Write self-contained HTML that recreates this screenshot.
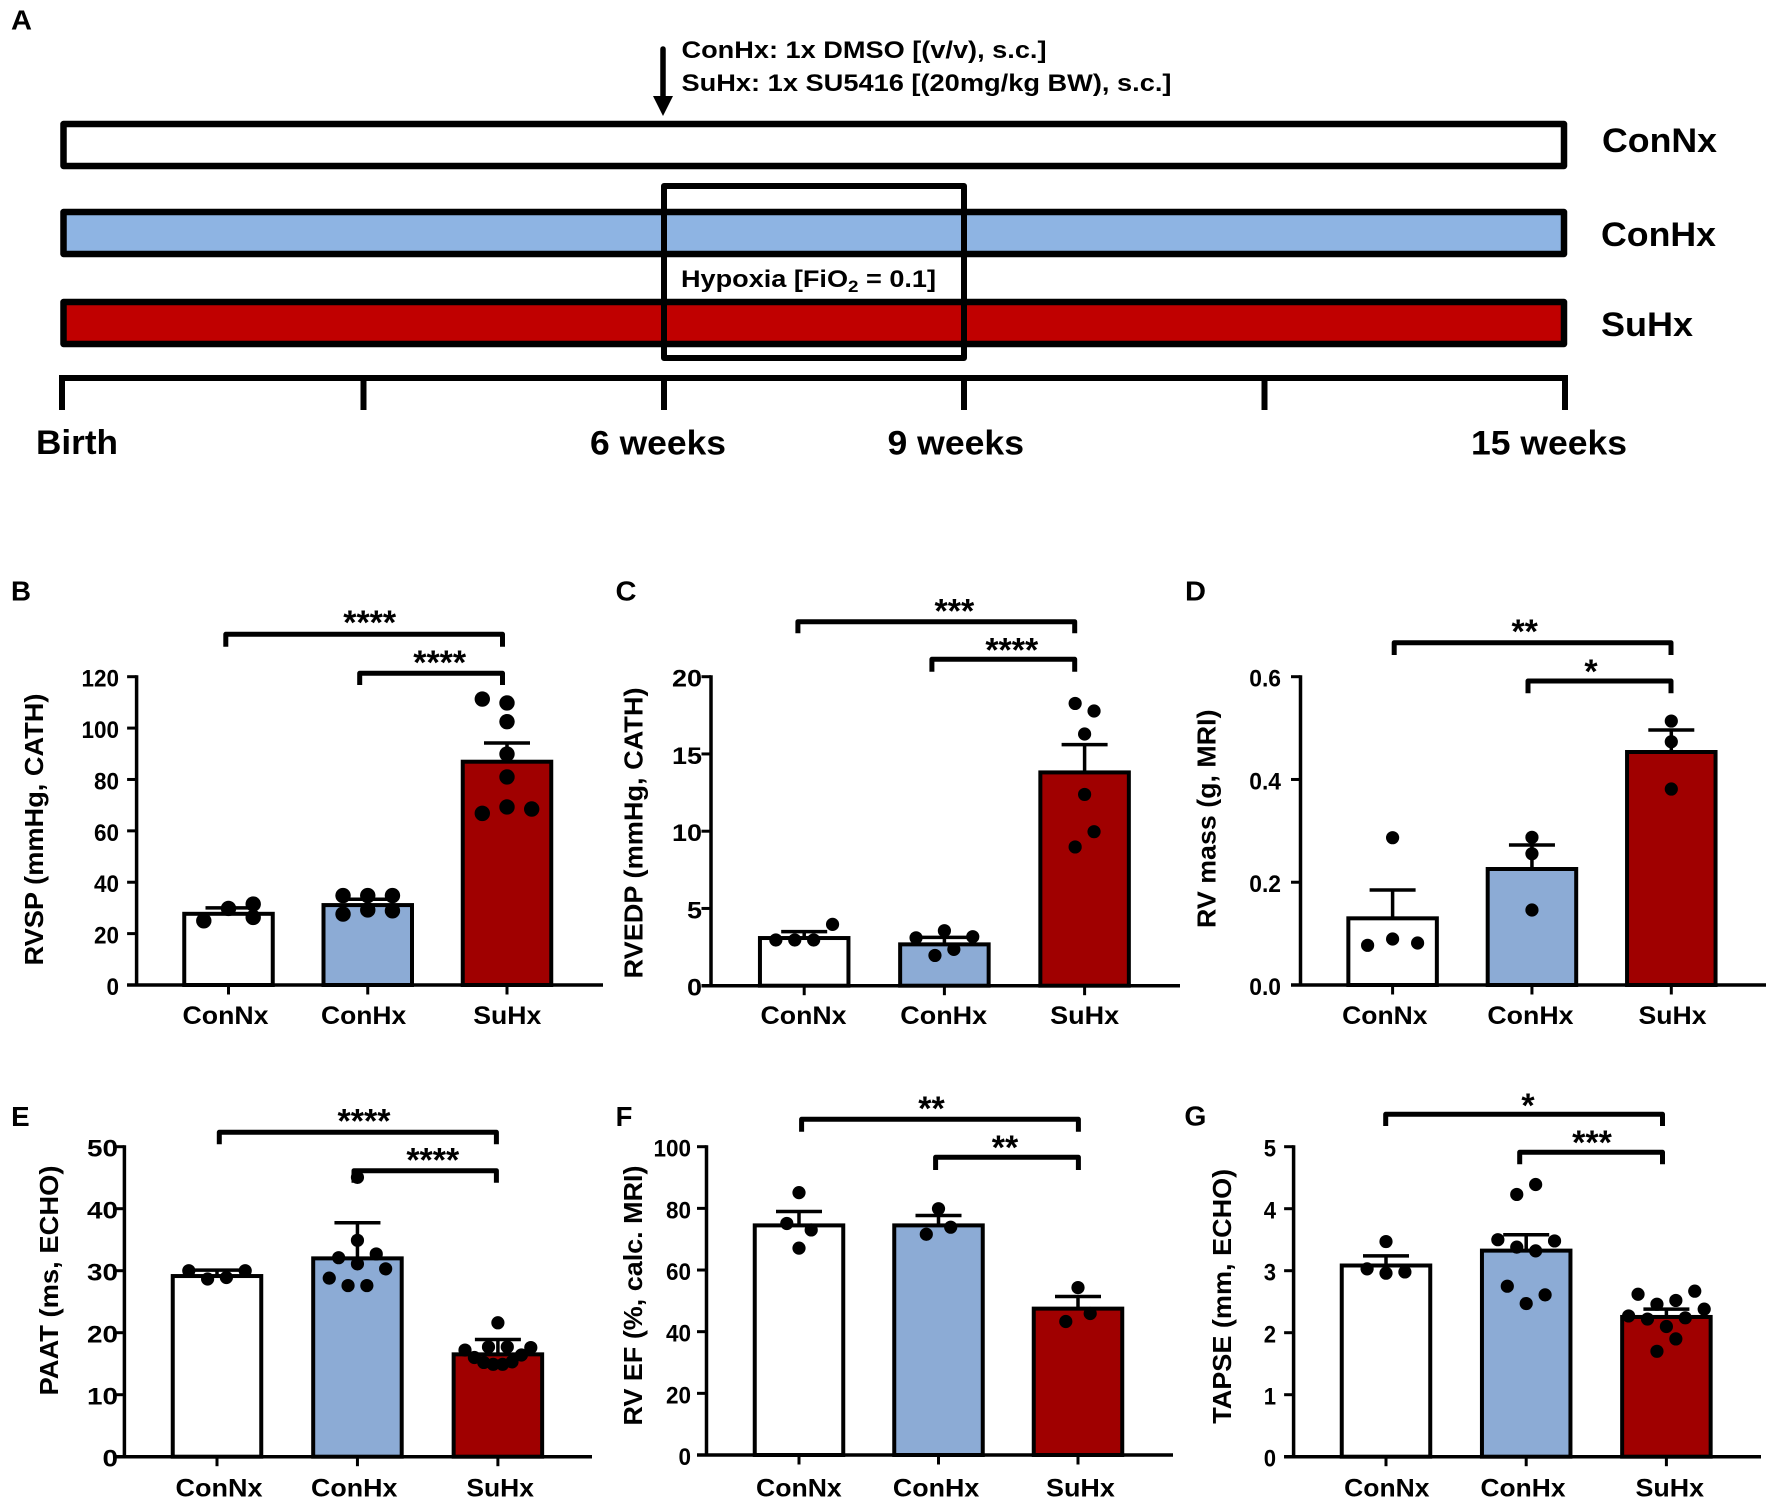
<!DOCTYPE html>
<html lang="en">
<head>
<meta charset="utf-8">
<title>RV function panels</title>
<style>
html,body{margin:0;padding:0;background:#fff;}
svg{display:block;}
text{font-family:"Liberation Sans",Arial,sans-serif;font-weight:bold;fill:#000;}
</style>
</head>
<body>
<svg id="figure" xmlns="http://www.w3.org/2000/svg" width="1772" height="1503" viewBox="0 0 1772 1503">
  <rect x="0" y="0" width="1772" height="1503" fill="#fff"/>
  <g id="panel-a">
    <text x="11" y="29.5" font-size="28" textLength="21" lengthAdjust="spacingAndGlyphs">A</text>
    <rect x="63.5" y="124" width="1500.5" height="42" fill="#fff" stroke="#000" stroke-width="6.5" stroke-linejoin="round"/>
    <rect x="63.5" y="212" width="1500.5" height="42" fill="#8EB4E3" stroke="#000" stroke-width="6.5" stroke-linejoin="round"/>
    <rect x="63.5" y="302" width="1500.5" height="42" fill="#C00000" stroke="#000" stroke-width="6.5" stroke-linejoin="round"/>
    <rect x="664" y="186" width="300" height="172" fill="none" stroke="#000" stroke-width="6" stroke-linejoin="round"/>
    <line x1="663" y1="49" x2="663" y2="98" stroke="#000" stroke-width="5.5" stroke-linecap="round"/>
    <polygon points="653,96 673,96 663,116" fill="#000"/>
    <text x="681.5" y="58" font-size="24.5" textLength="365" lengthAdjust="spacingAndGlyphs">ConHx: 1x DMSO [(v/v), s.c.]</text>
    <text x="681.5" y="91" font-size="24.5" textLength="490" lengthAdjust="spacingAndGlyphs">SuHx: 1x SU5416 [(20mg/kg BW), s.c.]</text>
    <text x="681" y="287" font-size="24.5" textLength="255" lengthAdjust="spacingAndGlyphs">Hypoxia [FiO<tspan font-size="17" dy="5">2</tspan><tspan dy="-5"> = 0.1]</tspan></text>
    <text x="1602" y="152" font-size="34" textLength="115" lengthAdjust="spacingAndGlyphs">ConNx</text>
    <text x="1601" y="246" font-size="34" textLength="115" lengthAdjust="spacingAndGlyphs">ConHx</text>
    <text x="1601" y="336" font-size="34" textLength="92" lengthAdjust="spacingAndGlyphs">SuHx</text>
    <path d="M62 410 V378 H1565 V410 M363.5 378 V410 M664 378 V410 M964 378 V410 M1264.5 378 V410" fill="none" stroke="#000" stroke-width="6"/>
    <text x="36" y="454" font-size="34.5" textLength="82" lengthAdjust="spacingAndGlyphs">Birth</text>
    <text x="590" y="454.5" font-size="34.5" textLength="136" lengthAdjust="spacingAndGlyphs">6 weeks</text>
    <text x="887.5" y="454.5" font-size="34.5" textLength="136.5" lengthAdjust="spacingAndGlyphs">9 weeks</text>
    <text x="1471" y="454.5" font-size="34.5" textLength="156" lengthAdjust="spacingAndGlyphs">15 weeks</text>
  </g>
  <g id="charts"></g>
</svg>
<script>
const categories = ['ConNx', 'ConHx', 'SuHx'];
const barFills = ['#ffffff', '#8CABD5', '#A00000'];

// Panel B: RVSP
const rvspTicks = [0, 20, 40, 60, 80, 100, 120];
const rvspMeans = [28.1, 31.5, 87.3];
const rvspErrors = [30, 33.4, 94.2];
const rvspPoints = [[25, 29.8, 31.5, 26.3], [34.8, 34.8, 34.8, 27.6, 29.2, 28.9], [111.3, 109.8, 102.5, 89.9, 81, 66.8, 69.3, 68.5]];
const rvspSwarm = [[-1, 0, 1, 1], [-1, 0, 1, -1, 0, 1], [-1, 0, 0, 0, 0, -1, 0, 1]];

// Panel C: RVEDP
const rvedpTicks = [0, 5, 10, 15, 20];
const rvedpMeans = [3.15, 2.74, 13.87];
const rvedpErrors = [3.5, 3.13, 15.6];
const rvedpPoints = [[2.96, 2.96, 2.96, 3.97], [3.1, 3.56, 3.17, 1.96, 2.35], [18.27, 17.78, 16.29, 12.38, 9.97, 8.98]];
const rvedpSwarm = [[-1.5, -0.5, 0.5, 1.5], [-1.5, 0, 1.5, -0.5, 0.5], [-0.5, 0.5, 0, 0, 0.5, -0.5]];

// Panel D: RV mass
const massTicks = ['0.0', '0.2', '0.4', '0.6'];
const massMeans = [0.1317, 0.2277, 0.4554];
const massErrors = [0.185, 0.2724, 0.4962];
const massPoints = [[0.0772, 0.0895, 0.0817, 0.2867], [0.2874, 0.2556, 0.146], [0.5137, 0.4735, 0.3814]];
const massSwarm = [[-1, 0, 1, 0], [0, 0, 0], [0, 0, 0]];

// Panel E: PAAT
const paatTicks = [0, 10, 20, 30, 40, 50];
const paatMeans = [29.3, 32.15, 16.67];
const paatErrors = [30.1, 37.74, 18.9];
const paatPoints = [[30, 28.66, 28.9, 30], [45.05, 34.9, 32.1, 32.7, 31.1, 30.3, 28.8, 27.6, 27.6], [21.6, 17.7, 17.7, 17.2, 16, 15.2, 14.9, 14.9, 15.3, 16.4, 17.6]];
const paatSwarm = [[-1.5, -0.5, 0.5, 1.5], [0, 0, -1, 1, 0, 1.5, -1.5, -0.5, 0.5], [0, -0.5, 0.5, -1.75, -1.25, -0.75, -0.25, 0.25, 0.75, 1.25, 1.75]];

// Panel F: RV EF
const efTicks = [0, 20, 40, 60, 80, 100];
const efMeans = [74.8, 74.8, 47.8];
const efErrors = [79, 77.7, 51.4];
const efPoints = [[85.1, 75.1, 73, 67.1], [79.9, 73.9, 71.6], [54.3, 45.9, 43.3]];
const efSwarm = [[0, -1, 1, 0], [0, 1, -1], [0, 1, -1]];

// Panel G: TAPSE
const tapseTicks = [0, 1, 2, 3, 4, 5];
const tapseMeans = [3.1, 3.34, 2.27];
const tapseErrors = [3.24, 3.58, 2.38];
const tapsePoints = [[3.47, 3.03, 2.96, 2.98], [4.39, 4.23, 3.5, 3.48, 3.38, 3.32, 2.75, 2.61, 2.47], [2.62, 2.67, 2.46, 2.52, 2.38, 2.27, 2.22, 2.24, 2.1, 1.9, 1.7]];
const tapseSwarm = [[0, -1, 0, 1], [0.5, -0.5, -1.5, 1.5, -0.5, 0.5, -1, 1, 0], [-1.5, 1.5, -0.5, 0.5, 2, -2, -1, 1, 0, 0.5, -0.5]];

const panels = [
  {id: 'b', letter: 'B', letterX: 11, letterY: 600.5, letterW: 20, title: 'RVSP (mmHg, CATH)', titleX: 43, titleBottom: 965.5, titleLen: 272,
   ticks: rvspTicks, means: rvspMeans, errors: rvspErrors, points: rvspPoints, swarm: rvspSwarm, yMax: 120,
   axisX: 136.6, top: 676.7, zero: 985, end: 603, labelRight: 119, digitW: 12.5, x0: 228.5, step: 139.25, swarmStep: 24.7, r: 7.7,
   labelStart: [182.5, 321, 473.3], labelLen: [86, 85.2, 68], labelY: 1024,
   brackets: [[225.8, 502.5, 634.3, 646.7], [359.7, 502.5, 673.3, 685]],
   stars: [['****', 369.7, 609.4], ['****', 439.7, 649.4]]},
  {id: 'c', letter: 'C', letterX: 615.5, letterY: 600.5, letterW: 21, title: 'RVEDP (mmHg, CATH)', titleX: 642.5, titleBottom: 978.5, titleLen: 291,
   ticks: rvedpTicks, means: rvedpMeans, errors: rvedpErrors, points: rvedpPoints, swarm: rvedpSwarm, yMax: 20,
   axisX: 711, top: 676.7, zero: 985.7, end: 1180, labelRight: 702, digitW: 15, x0: 804.2, step: 140.2, swarmStep: 18.9, r: 6.6,
   labelStart: [760.5, 900.3, 1050.1], labelLen: [86, 86.8, 69], labelY: 1024,
   brackets: [[797.9, 1074.7, 621.7, 633.3], [931.9, 1074.7, 659.3, 671.7]],
   stars: [['***', 954.4, 597.7], ['****', 1011.8, 636.7]]},
  {id: 'd', letter: 'D', letterX: 1185, letterY: 600.5, letterW: 21, title: 'RV mass (g, MRI)', titleX: 1215.5, titleBottom: 928, titleLen: 218.5,
   ticks: massTicks, means: massMeans, errors: massErrors, points: massPoints, swarm: massSwarm, yMax: 0.6,
   axisX: 1300.5, top: 676.7, zero: 985, end: 1766, labelRight: 1281, digitW: 12.7, x0: 1392.6, step: 139.35, swarmStep: 25, r: 6.6,
   labelStart: [1342.2, 1487.4, 1638.5], labelLen: [85.3, 86.1, 68], labelY: 1024,
   brackets: [[1394.2, 1671, 642.7, 655], [1528, 1671, 681, 693.3]],
   stars: [['**', 1524.7, 618.4], ['*', 1591, 658.4]]},
  {id: 'e', letter: 'E', letterX: 11.2, letterY: 1126, letterW: 18.5, title: 'PAAT (ms, ECHO)', titleX: 58, titleBottom: 1395.5, titleLen: 230,
   ticks: paatTicks, means: paatMeans, errors: paatErrors, points: paatPoints, swarm: paatSwarm, yMax: 50,
   axisX: 124.4, top: 1146.7, zero: 1456.7, end: 592, labelRight: 118, digitW: 15.5, x0: 217, step: 140.45, swarmStep: 18.8, r: 6.6,
   labelStart: [175.5, 311, 466.4], labelLen: [87, 86.4, 67.6], labelY: 1496.7,
   brackets: [[219.3, 496.4, 1132.3, 1144.3], [354, 496.4, 1170.7, 1182.7]],
   stars: [['****', 364, 1107.7], ['****', 432.8, 1146.7]]},
  {id: 'f', letter: 'F', letterX: 615.6, letterY: 1126, letterW: 16.8, title: 'RV EF (%, calc. MRI)', titleX: 642, titleBottom: 1425.5, titleLen: 260,
   ticks: efTicks, means: efMeans, errors: efErrors, points: efPoints, swarm: efSwarm, yMax: 100,
   axisX: 706.5, top: 1146.7, zero: 1455, end: 1173, labelRight: 691, digitW: 12.5, x0: 799, step: 139.5, swarmStep: 12.2, r: 6.6,
   labelStart: [756, 892.9, 1046], labelLen: [85.7, 86.4, 68.8], labelY: 1496.7,
   brackets: [[801.6, 1078.4, 1119.3, 1131.7], [935.6, 1078.4, 1157.3, 1170]],
   stars: [['**', 931.5, 1095], ['**', 1005, 1134.4]]},
  {id: 'g', letter: 'G', letterX: 1184.4, letterY: 1125.5, letterW: 22, title: 'TAPSE (mm, ECHO)', titleX: 1231, titleBottom: 1423.8, titleLen: 255,
   ticks: tapseTicks, means: tapseMeans, errors: tapseErrors, points: tapsePoints, swarm: tapseSwarm, yMax: 5,
   axisX: 1293.6, top: 1146.7, zero: 1456.7, end: 1761, labelRight: 1276, digitW: 12.3, x0: 1386, step: 140.2, swarmStep: 18.9, r: 6.6,
   labelStart: [1344.2, 1480.5, 1635.5], labelLen: [85.3, 85, 68.6], labelY: 1496.7,
   brackets: [[1385.7, 1662.5, 1114.3, 1126], [1519.7, 1662.5, 1152.3, 1164.3]],
   stars: [['*', 1528, 1092], ['***', 1592, 1129.4]]}
];

const SVG_NS = 'http://www.w3.org/2000/svg';
function make(parent, tag, attrs, content) {
  const node = document.createElementNS(SVG_NS, tag);
  for (const key in attrs) node.setAttribute(key, attrs[key]);
  if (content !== undefined) node.textContent = content;
  parent.appendChild(node);
  return node;
}
function yScale(panel, value) {
  return panel.zero - (Number(value) / panel.yMax) * (panel.zero - panel.top);
}
function xScale(panel, index) {
  return panel.x0 + index * panel.step;
}
function tickLabelWidth(label, digitW) {
  let width = 0;
  for (const ch of String(label)) width += ch === '.' ? digitW * 0.5 : digitW;
  return width;
}

const root = document.getElementById('charts');
const BAR_WIDTH = 88.5;
const CAP = 23;
const STAR_SIZE = 34;

panels.forEach(function (p) {
  const g = make(root, 'g', {});
  
  

  const letter = make(g, 'text', {x: p.letterX, y: p.letterY, 'font-size': 27.5, textLength: p.letterW, lengthAdjust: 'spacingAndGlyphs'}, p.letter);
  
  

  const title = make(g, 'text', {x: p.titleX, y: p.titleBottom, 'font-size': 26, textLength: p.titleLen, lengthAdjust: 'spacingAndGlyphs', transform: 'rotate(-90 ' + p.titleX + ' ' + p.titleBottom + ')'}, p.title);
  
  

  // Bars
  categories.forEach(function (cat, i) {
    const cx = xScale(p, i);
    const yTop = yScale(p, p.means[i]) + 1;
    const bar = make(g, 'rect', {x: cx - BAR_WIDTH / 2, y: yTop, width: BAR_WIDTH, height: p.zero - yTop, fill: barFills[i], stroke: '#000', 'stroke-width': 4});
    
    

    const errY = yScale(p, p.errors[i]);
    const err = make(g, 'path', {d: 'M' + cx + ' ' + yTop + ' V' + errY + ' M' + (cx - CAP) + ' ' + errY + ' H' + (cx + CAP), fill: 'none', stroke: '#000', 'stroke-width': 3.5});
    
    

    p.points[i].forEach(function (value, j) {
      const dot = make(g, 'circle', {cx: cx + p.swarm[i][j] * p.swarmStep, cy: yScale(p, value), r: p.r, fill: '#000'});
      
      
    });

    const tick = make(g, 'line', {x1: cx, x2: cx, y1: p.zero, y2: p.zero + 9.5, stroke: '#000', 'stroke-width': 3});
    
    

    const label = make(g, 'text', {x: p.labelStart[i], y: p.labelY, 'font-size': 25, textLength: p.labelLen[i], lengthAdjust: 'spacingAndGlyphs'}, cat);
    
    
  });

  // Axes
  const yAxis = make(g, 'line', {x1: p.axisX, x2: p.axisX, y1: p.top - 1.5, y2: p.zero + 1.5, stroke: '#000', 'stroke-width': 3.5});
  
  

  const xAxis = make(g, 'line', {x1: p.axisX - 9.5, x2: p.end, y1: p.zero, y2: p.zero, stroke: '#000', 'stroke-width': 3.5});
  
  

  p.ticks.forEach(function (t) {
    const y = yScale(p, t);
    const tick = make(g, 'line', {x1: p.axisX - 9.5, x2: p.axisX, y1: y, y2: y, stroke: '#000', 'stroke-width': 3});
    
    

    const label = make(g, 'text', {x: p.labelRight, y: y + 10, 'font-size': 24, 'text-anchor': 'end', textLength: tickLabelWidth(t, p.digitW), lengthAdjust: 'spacingAndGlyphs'}, String(t));
    
    
  });

  // Significance brackets
  p.brackets.forEach(function (b) {
    const bracket = make(g, 'path', {d: 'M' + b[0] + ' ' + b[3] + ' V' + b[2] + ' H' + b[1] + ' V' + b[3], fill: 'none', stroke: '#000', 'stroke-width': 5, 'stroke-linejoin': 'round'});
    
    
  });
  p.stars.forEach(function (s) {
    const star = make(g, 'text', {x: s[1], y: s[2] + STAR_SIZE * 0.73, 'font-size': STAR_SIZE, 'text-anchor': 'middle'}, s[0]);
    
    
  });
});
</script>
</body>
</html>
